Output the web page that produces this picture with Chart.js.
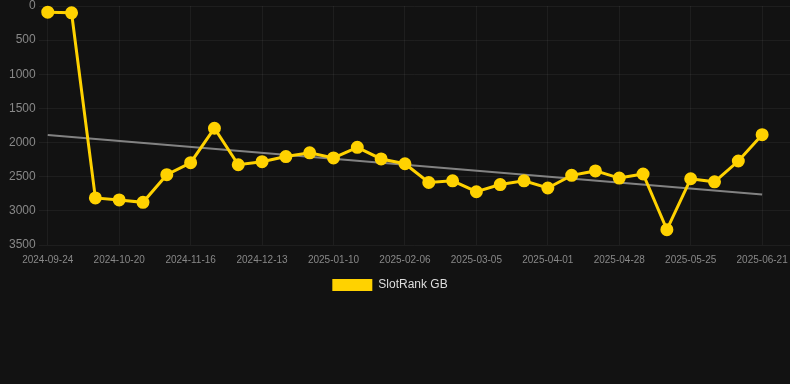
<!DOCTYPE html>
<html>
<head>
<meta charset="utf-8">
<script src="https://cdn.jsdelivr.net/npm/chart.js@4"></script>
<style>
  html, body { margin: 0; padding: 0; background: #121212; }
  #wrap { position: relative; width: 790px; height: 301px; }
</style>
</head>
<body>
<div id="wrap"><canvas id="rankChart"></canvas></div>
<script>
  const dates = [
    "2024-09-24", "2024-10-02", "2024-10-11", "2024-10-20", "2024-10-29", "2024-11-07",
    "2024-11-16", "2024-11-25", "2024-12-04", "2024-12-13", "2024-12-22", "2025-01-01",
    "2025-01-10", "2025-01-19", "2025-01-28", "2025-02-06", "2025-02-15", "2025-02-24",
    "2025-03-05", "2025-03-14", "2025-03-23", "2025-04-01", "2025-04-10", "2025-04-19",
    "2025-04-28", "2025-05-07", "2025-05-16", "2025-05-25", "2025-06-03", "2025-06-12",
    "2025-06-21"
  ];
  const rankValues = [
    90, 100, 2810, 2840, 2875, 2470, 2295, 1790, 2325, 2280, 2205, 2150,
    2225, 2070, 2240, 2310, 2585, 2560, 2720, 2615, 2560, 2665, 2480, 2415,
    2520, 2460, 3275, 2530, 2575, 2270, 1885
  ];
  // trend endpoints (first / last date)
  const trendStart = 1890;
  const trendEnd = 2760;
  const yTicks = [0, 500, 1000, 1500, 2000, 2500, 3000, 3500];

  const labelEvery = 3;
  const gold = "#ffd200";
  const font = "Liberation Sans, Arial, sans-serif";

  const rankPoints = rankValues.map((v, i) => ({ x: i, y: v }));
  const trendPoints = [
    { x: 0, y: trendStart },
    { x: dates.length - 1, y: trendEnd }
  ];

  // nudge the legend a few px left, like the original
  const legendNudge = {
    id: "legendNudge",
    afterLayout(chart) {
      if (chart.legend) {
        chart.legend.left -= 5;
        chart.legend.right -= 5;
      }
    }
  };

  new Chart(document.getElementById("rankChart"), {
    type: "line",
    data: {
      datasets: [
        {
          label: "SlotRank GB",
          data: rankPoints,
          borderColor: gold,
          backgroundColor: gold,
          borderWidth: 3,
          pointRadius: 5,
          pointBackgroundColor: gold,
          pointBorderColor: gold,
          tension: 0,
          clip: false
        },
        {
          label: "trend",
          data: trendPoints,
          borderColor: "rgba(150,150,150,0.85)",
          borderWidth: 2,
          pointRadius: 0,
          tension: 0
        }
      ]
    },
    plugins: [legendNudge],
    options: {
      responsive: true,
      maintainAspectRatio: false,
      animation: false,
      layout: { autoPadding: false, padding: 0 },
      plugins: {
        legend: {
          position: "bottom",
          labels: {
            color: "#dddddd",
            font: { family: font, size: 12 },
            boxWidth: 40,
            boxHeight: 12,
            padding: 4,
            generateLabels: (chart) =>
              Chart.defaults.plugins.legend.labels.generateLabels(chart)
                .filter((l) => l.text !== "trend")
                .map((l) => ({ ...l, lineWidth: 0 }))
          }
        },
        tooltip: { enabled: false }
      },
      scales: {
        x: {
          type: "linear",
          min: -0.38,
          max: dates.length - 1 + 1.17,
          afterBuildTicks: (axis) => {
            axis.ticks = dates
              .map((_, i) => i)
              .filter((i) => i % labelEvery === 0)
              .map((i) => ({ value: i }));
          },
          afterFit: (axis) => {
            axis.paddingLeft = 0;
            axis.paddingRight = 0;
          },
          ticks: {
            color: "#888888",
            font: { family: font, size: 10 },
            maxRotation: 0,
            autoSkip: false,
            padding: 9,
            callback: (v) => dates[v] || ""
          },
          grid: { color: "rgba(255,255,255,0.05)", drawTicks: false },
          border: { display: false }
        },
        y: {
          reverse: true,
          min: 0,
          max: 3500,
          afterBuildTicks: (axis) => {
            axis.ticks = yTicks.map((v) => ({ value: v }));
          },
          afterFit: (axis) => {
            axis.width += 6;
            axis.paddingTop = 6;
          },
          ticks: {
            color: "#888888",
            font: { family: font, size: 12 },
            padding: 3,
            callback: (v) => String(v)
          },
          grid: { color: "rgba(255,255,255,0.05)", drawTicks: false },
          border: { display: false }
        }
      }
    }
  });
</script>
</body>
</html>
